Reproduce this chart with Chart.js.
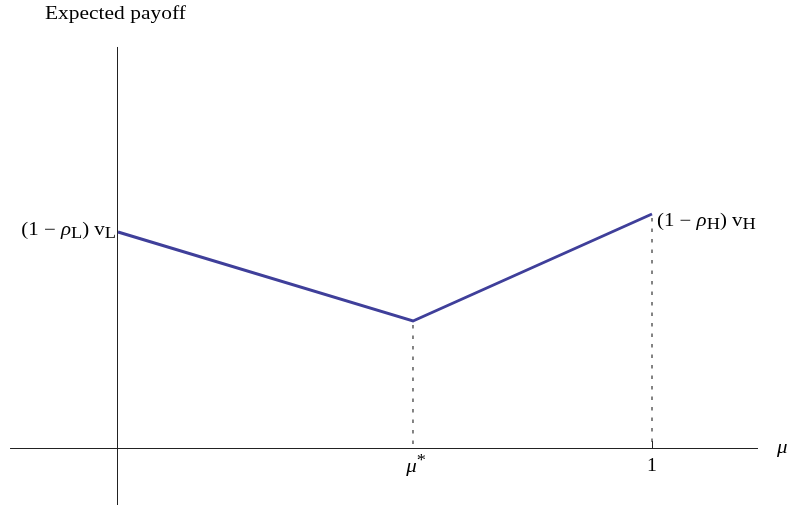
<!DOCTYPE html>
<html>
<head>
<meta charset="utf-8">
<script src="https://cdn.jsdelivr.net/npm/chart.js@4.4.1/dist/chart.umd.min.js"></script>
<style>
  html, body { margin: 0; padding: 0; background: #fff; }
  #wrap { width: 791px; height: 506px; }
</style>
</head>
<body>
<div id="wrap"><canvas id="c" width="791" height="506"></canvas></div>
<script>
// Belief about the high type and the resulting expected payoff
const muValues = [0, 0.5524, 1];
const payoff = [0.72, 0.4233, 0.78];
const muStar = muValues[1];
const tickValues = [muStar, 1];
const tickLabels = ['μ*', '1'];
const axisTitle = 'Expected payoff';
const axisLabelX = 'μ';

const SERIF = '"Liberation Serif", "DejaVu Serif", serif';

// Draws a run of text pieces (plain, italic, subscript, superscript), optionally widened by sx
function drawRich(ctx, parts, x, y, align, size, sx) {
  sx = sx || 1;
  const fonts = parts.map(p => {
    const s = (p.sub || p.sup) ? size * 0.88 : size;
    return (p.italic ? 'italic ' : '') + s + 'px ' + SERIF;
  });
  let w = 0;
  parts.forEach((p, i) => { ctx.font = fonts[i]; w += ctx.measureText(p.t).width; });
  w *= sx;
  let cx = align === 'right' ? x - w : (align === 'center' ? x - w / 2 : x);
  ctx.save();
  ctx.translate(cx, y);
  ctx.scale(sx, 1);
  ctx.textBaseline = 'alphabetic';
  ctx.textAlign = 'left';
  let px = 0;
  parts.forEach((p, i) => {
    ctx.font = fonts[i];
    const dy = p.sub ? size * 0.14 : (p.sup ? -size * 0.38 : 0);
    ctx.fillText(p.t, px, dy);
    px += ctx.measureText(p.t).width;
  });
  ctx.restore();
}

const axesPlugin = {
  id: 'axesPlugin',
  beforeDatasetsDraw(chart) {
    const { ctx, scales: { x, y } } = chart;
    const x0 = x.getPixelForValue(0), y0 = y.getPixelForValue(0);
    ctx.save();
    ctx.strokeStyle = '#222';
    ctx.lineWidth = 1;
    ctx.beginPath();
    ctx.moveTo(x.getPixelForValue(-0.2022), y0 + 0.5);
    ctx.lineTo(x.getPixelForValue(1.1985), y0 + 0.5);
    ctx.moveTo(x0 - 0.5, y.getPixelForValue(1.3367));
    ctx.lineTo(x0 - 0.5, y.getPixelForValue(-0.19));
    // tick at mu = 1
    const x1 = Math.round(x.getPixelForValue(1)) + 0.5;
    ctx.moveTo(x1, y0);
    ctx.lineTo(x1, y0 - 7);
    ctx.stroke();
    ctx.restore();
  },
  afterDraw(chart) {
    const { ctx, scales: { x, y } } = chart;
    const y0 = y.getPixelForValue(0);
    ctx.save();
    ctx.fillStyle = '#000';
    // tick labels
    drawRich(ctx, [{ t: tickLabels[0].charAt(0), italic: true }, { t: tickLabels[0].slice(1), sup: true }],
      x.getPixelForValue(tickValues[0]) + 3, y0 + 24, 'center', 19, 1.1);
    drawRich(ctx, [{ t: tickLabels[1] }], x.getPixelForValue(tickValues[1]), y0 + 23, 'center', 18, 1.1);
    // axis label
    drawRich(ctx, [{ t: axisLabelX, italic: true }], x.getPixelForValue(1.1985) + 19, y0 + 5, 'left', 19, 1.1);
    // y axis title
    drawRich(ctx, [{ t: axisTitle }], 45, 19, 'left', 18.5, 1.16);
    // endpoint labels
    drawRich(ctx, [
      { t: '(1 − ' }, { t: 'ρ', italic: true }, { t: 'L', sub: true }, { t: ') v' }, { t: 'L', sub: true }
    ], x.getPixelForValue(0) - 2, y.getPixelForValue(payoff[0]) + 3, 'right', 18, 1.16);
    drawRich(ctx, [
      { t: '(1 − ' }, { t: 'ρ', italic: true }, { t: 'H', sub: true }, { t: ') v' }, { t: 'H', sub: true }
    ], x.getPixelForValue(1) + 5, y.getPixelForValue(payoff[2]) + 12, 'left', 18, 1.16);
    ctx.restore();
  }
};

new Chart(document.getElementById('c'), {
  type: 'scatter',
  data: {
    datasets: [
      {
        data: muValues.map((m, i) => ({ x: m, y: payoff[i] })),
        showLine: true,
        borderColor: '#3f3f9a',
        borderWidth: 3,
        pointRadius: 0,
        tension: 0
      },
      {
        data: [{ x: muStar, y: payoff[1] }, { x: muStar, y: 0 }],
        showLine: true,
        borderColor: '#333',
        borderWidth: 1.2,
        borderDash: [3.5, 7],
        borderDashOffset: -4,
        pointRadius: 0
      },
      {
        data: [{ x: 1, y: payoff[2] }, { x: 1, y: 0 }],
        showLine: true,
        borderColor: '#333',
        borderWidth: 1.2,
        borderDash: [3.5, 7],
        borderDashOffset: -4,
        pointRadius: 0
      }
    ]
  },
  options: {
    responsive: false,
    animation: false,
    layout: { padding: 0 },
    plugins: { legend: { display: false }, tooltip: { enabled: false } },
    scales: {
      x: { type: 'linear', display: false, min: -0.2210, max: 1.2603 },
      y: { type: 'linear', display: false, min: -0.1933, max: 1.4933 }
    }
  },
  plugins: [axesPlugin]
});
</script>
</body>
</html>
